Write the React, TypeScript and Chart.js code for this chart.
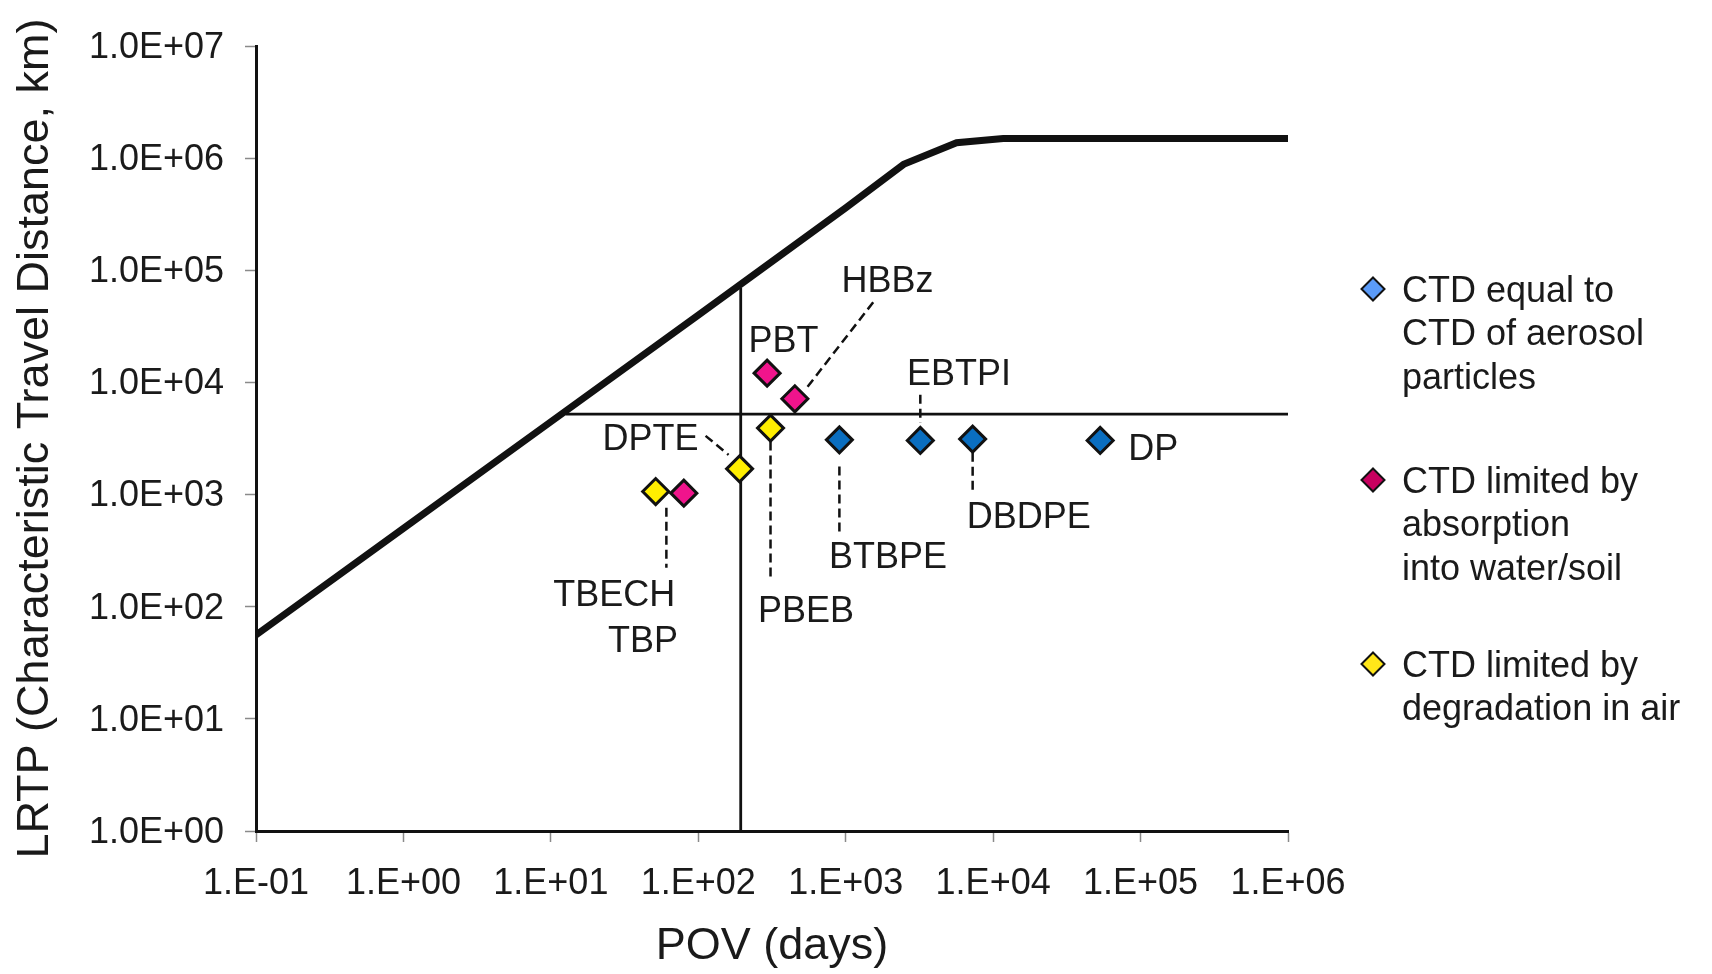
import React, { useEffect, useRef } from 'react';
import { Chart, registerables } from 'chart.js';

Chart.register(...registerables);

const FONT = "'Liberation Sans', Arial, Helvetica, sans-serif";
const TEXT = '#1a1a1a';

// Axis ticks
const xTickValues = [0.1, 1, 10, 100, 1000, 10000, 100000, 1000000];
const xTickLabels = ['1.E-01', '1.E+00', '1.E+01', '1.E+02', '1.E+03', '1.E+04', '1.E+05', '1.E+06'];
const yTickValues = [1, 10, 100, 1000, 10000, 100000, 1000000, 10000000];
const yTickLabels = ['1.0E+00', '1.0E+01', '1.0E+02', '1.0E+03', '1.0E+04', '1.0E+05', '1.0E+06', '1.0E+07'];

// Upper bound curve (LRTP vs POV)
const curvePOV = [0.1, 1, 10, 100, 1000, 2470, 5650, 11700, 1000000];
const curveLRTP = [56, 500, 4460, 39800, 360000, 880000, 1370000, 1500000, 1500000];

// Threshold lines
const thresholdPOV = [194, 194];
const thresholdPOVLRTP = [1, 70000];
const thresholdLRTPPOV = [12.6, 1000000];
const thresholdLRTP = [5220, 5220];

// Series: CTD equal to CTD of aerosol particles
const aerosolNames = ['BTBPE', 'EBTPI', 'DBDPE', 'DP'];
const aerosolPOV = [906, 3206, 7260, 53200];
const aerosolCTD = [3078, 3036, 3123, 3036];

// Series: CTD limited by absorption into water/soil
const absorptionNames = ['PBT', 'HBBz', 'TBP'];
const absorptionPOV = [293, 452, 79.8];
const absorptionCTD = [12100, 7150, 1029];

// Series: CTD limited by degradation in air
const degradationNames = ['PBEB', 'DPTE', 'TBECH'];
const degradationPOV = [309, 190.6, 51.4];
const degradationCTD = [3917, 1696, 1064];

// Legend
const legendLabels = [
  ['CTD equal to', 'CTD of aerosol', 'particles'],
  ['CTD limited by', 'absorption', 'into water/soil'],
  ['CTD limited by', 'degradation in air'],
];
const legendColors = ['#5B9BF8', '#C8005F', '#FFE619'];
const seriesColors = ['#0A6EC0', '#F0148C', '#FFEE00'];

// Label placement (pixel offsets from the point) and leader lines
const labelLayout: Record<string, { dx: number; dy: number; leader?: number[] }> = {
  BTBPE: { dx: 48.6, dy: 115.7, leader: [0, 26.7, 0, 93] },
  EBTPI: { dx: 38.6, dy: -68.4, leader: [0, -45.7, 0, -17.4] },
  DBDPE: { dx: 56.2, dy: 76, leader: [0, 13.7, 0, 50.7] },
  DP: { dx: 53, dy: 7 },
  PBT: { dx: 16.3, dy: -34.3 },
  HBBz: { dx: 92.7, dy: -119.5, leader: [12.7, -12, 78.7, -97] },
  TBP: { dx: -40.8, dy: 146.2 },
  PBEB: { dx: 35.5, dy: 181, leader: [0, 13.4, 0, 153.4] },
  DPTE: { dx: -89, dy: -32, leader: [-34, -33, -11, -14] },
  TBECH: { dx: -41.5, dy: 102, leader: [10.7, 16.3, 10.7, 76.3] },
};

const toPoints = (xs: number[], ys: number[]) => xs.map((x, i) => ({ x, y: ys[i] }));

const seriesList = [
  { names: aerosolNames, pov: aerosolPOV, ctd: aerosolCTD },
  { names: absorptionNames, pov: absorptionPOV, ctd: absorptionCTD },
  { names: degradationNames, pov: degradationPOV, ctd: degradationCTD },
];

const labelPlugin = {
  id: 'pointLabels',
  afterDatasetsDraw(chart: any) {
    const { ctx } = chart;
    const xs = chart.scales.x;
    const ys = chart.scales.y;
    ctx.save();
    seriesList.forEach((s) => {
      s.names.forEach((name, i) => {
        const px = xs.getPixelForValue(s.pov[i]);
        const py = ys.getPixelForValue(s.ctd[i]);
        const lay = labelLayout[name];
        if (!lay) return;
        if (lay.leader) {
          const [x1, y1, x2, y2] = lay.leader;
          ctx.beginPath();
          ctx.setLineDash([9, 5]);
          ctx.lineWidth = 2.5;
          ctx.strokeStyle = '#111';
          ctx.moveTo(px + x1, py + y1);
          ctx.lineTo(px + x2, py + y2);
          ctx.stroke();
          ctx.setLineDash([]);
        }
        ctx.fillStyle = TEXT;
        ctx.font = `36px ${FONT}`;
        ctx.textAlign = 'center';
        ctx.textBaseline = 'middle';
        ctx.fillText(name, px + lay.dx, py + lay.dy + 3);
      });
    });
    ctx.restore();
  },
};

const legendPlugin = {
  id: 'customLegend',
  afterDraw(chart: any) {
    const { ctx } = chart;
    const markerX = 1373;
    const markerYs = [289, 480, 664];
    const textX = 1402;
    const lineGap = 43.5;
    ctx.save();
    legendLabels.forEach((lines, k) => {
      const my = markerYs[k];
      const r = 11.5;
      ctx.beginPath();
      ctx.moveTo(markerX, my - r);
      ctx.lineTo(markerX + r, my);
      ctx.lineTo(markerX, my + r);
      ctx.lineTo(markerX - r, my);
      ctx.closePath();
      ctx.fillStyle = legendColors[k];
      ctx.fill();
      ctx.lineWidth = 2;
      ctx.strokeStyle = '#111';
      ctx.stroke();
      ctx.fillStyle = TEXT;
      ctx.font = `36px ${FONT}`;
      ctx.textAlign = 'left';
      ctx.textBaseline = 'middle';
      lines.forEach((t, j) => {
        ctx.fillText(t, textX, my + 3 + j * lineGap);
      });
    });
    ctx.restore();
  },
};

export default function App() {
  const canvasRef = useRef<HTMLCanvasElement | null>(null);

  useEffect(() => {
    if (!canvasRef.current) return;
    const markerBase = {
      showLine: false,
      pointStyle: 'rectRot',
      pointRadius: 13,
      pointHoverRadius: 13,
      pointBorderWidth: 3,
      pointBorderColor: '#111',
      order: 0,
    };
    const lineBase = {
      showLine: true,
      pointRadius: 0,
      pointHoverRadius: 0,
      borderColor: '#111',
      tension: 0,
      fill: false,
      order: 1,
    };
    const chart = new Chart(canvasRef.current, {
      type: 'scatter',
      data: {
        datasets: [
          { ...markerBase, label: 'CTD equal to CTD of aerosol particles', data: toPoints(aerosolPOV, aerosolCTD), backgroundColor: seriesColors[0] },
          { ...markerBase, label: 'CTD limited by absorption into water/soil', data: toPoints(absorptionPOV, absorptionCTD), backgroundColor: seriesColors[1] },
          { ...markerBase, label: 'CTD limited by degradation in air', data: toPoints(degradationPOV, degradationCTD), backgroundColor: seriesColors[2] },
          { ...lineBase, label: 'Curve', data: toPoints(curvePOV, curveLRTP), borderWidth: 7 },
          { ...lineBase, label: 'POV threshold', data: toPoints(thresholdPOV, thresholdPOVLRTP), borderWidth: 2.8 },
          { ...lineBase, label: 'LRTP threshold', data: toPoints(thresholdLRTPPOV, thresholdLRTP), borderWidth: 2.8 },
        ] as any,
      },
      options: {
        responsive: false,
        animation: false,
        events: [],
        layout: { padding: { left: 0, top: 46, right: 424, bottom: 0 } },
        plugins: {
          legend: { display: false },
          tooltip: { enabled: false },
        },
        scales: {
          x: {
            type: 'logarithmic',
            min: 0.1,
            max: 1000000,
            afterBuildTicks: (s: any) => {
              s.ticks = xTickValues.map((v) => ({ value: v }));
            },
            afterFit: (s: any) => {
              s.height = 143;
            },
            ticks: {
              autoSkip: false,
              maxRotation: 0,
              minRotation: 0,
              padding: 20,
              color: TEXT,
              font: { family: FONT, size: 36 },
              callback: (v: any) => {
                const i = xTickValues.findIndex((t) => Math.abs(Math.log10(t) - Math.log10(Number(v))) < 1e-6);
                return i >= 0 ? xTickLabels[i] : '';
              },
            },
            grid: { drawOnChartArea: false, drawTicks: true, tickLength: 11, tickColor: '#8a8a8a', tickWidth: 1.5 },
            border: { display: true, color: '#111', width: 3 },
            title: { display: true, text: 'POV (days)', color: TEXT, font: { family: FONT, size: 45 }, padding: { top: 0, bottom: 0 } },
          },
          y: {
            type: 'logarithmic',
            min: 1,
            max: 10000000,
            afterBuildTicks: (s: any) => {
              s.ticks = yTickValues.map((v) => ({ value: v }));
            },
            afterFit: (s: any) => {
              s.width = 256;
            },
            ticks: {
              autoSkip: false,
              padding: 21,
              labelOffset: 2,
              color: TEXT,
              font: { family: FONT, size: 36 },
              callback: (v: any) => {
                const i = yTickValues.findIndex((t) => Math.abs(Math.log10(t) - Math.log10(Number(v))) < 1e-6);
                return i >= 0 ? yTickLabels[i] : '';
              },
            },
            grid: { drawOnChartArea: false, drawTicks: true, tickLength: 11, tickColor: '#8a8a8a', tickWidth: 1.5 },
            border: { display: true, color: '#111', width: 3 },
            title: { display: true, text: 'LRTP (Characteristic Travel Distance, km)', color: TEXT, font: { family: FONT, size: 45 }, padding: { top: 9, bottom: 0 } },
          },
        },
      } as any,
      plugins: [labelPlugin, legendPlugin],
    });
    return () => chart.destroy();
  }, []);

  return (
    <div style={{ position: 'absolute', left: 0, top: 0, width: 1712, height: 974, background: '#fff' }}>
      <canvas ref={canvasRef} width={1712} height={974} style={{ width: 1712, height: 974, display: 'block' }} />
    </div>
  );
}
